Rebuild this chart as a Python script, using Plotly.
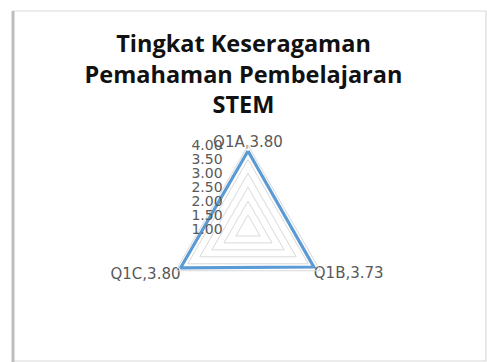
import plotly.graph_objects as go

categories = ["Q1A", "Q1B", "Q1C"]
values = [3.80, 3.73, 3.80]
tick_vals = [1.0, 1.5, 2.0, 2.5, 3.0, 3.5, 4.0]
title_lines = ["Tingkat Keseragaman", "Pemahaman Pembelajaran", "STEM"]

labels = [f"{c},{v:.2f}" for c, v in zip(categories, values)]

W, H = 487, 362
fig = go.Figure()
fig.add_trace(go.Scatterpolar(
    r=values + values[:1],
    theta=categories + categories[:1],
    mode="lines+text",
    text=labels + [""],
    textposition=["top center", "bottom right", "bottom left", "top center"],
    textfont=dict(family="DejaVu Sans, sans-serif", size=15, color="#595959"),
    line=dict(color="#5B9BD5", width=3.2),
    showlegend=False,
    cliponaxis=False,
    hoverinfo="skip",
))

cx, cy, R = 248, 229, 83.5
fig.update_layout(
    width=W, height=H,
    margin=dict(l=0, r=0, t=0, b=0),
    paper_bgcolor="white",
    plot_bgcolor="white",
    title=dict(
        text="<br>".join(title_lines),
        x=0.5, xanchor="center",
        y=1 - 52 / H, yanchor="top",
        font=dict(family="Open Sans, sans-serif", size=23.5, color="#111111", weight="bold"),
    ),
    polar=dict(
        domain=dict(x=[(cx - R) / W, (cx + R) / W], y=[1 - (cy + R) / H, 1 - (cy - R) / H]),
        gridshape="linear",
        bgcolor="rgba(0,0,0,0)",
        radialaxis=dict(
            range=[1, 4],
            tickvals=tick_vals,
            tickformat=".2f",
            angle=90,
            tickangle=90,
            side="counterclockwise",
            showline=False,
            ticks="outside",
            ticklen=20,
            tickcolor="rgba(0,0,0,0)",
            gridcolor="#d9d9d9",
            gridwidth=1,
            tickfont=dict(family="DejaVu Sans, sans-serif", size=14, color="#595959"),
        ),
        angularaxis=dict(
            rotation=90,
            direction="clockwise",
            showgrid=False,
            showticklabels=False,
            ticks="",
            showline=True,
            linecolor="#d9d9d9",
            linewidth=1,
        ),
    ),
    shapes=[
        dict(type="rect", xref="paper", yref="paper",
             x0=13 / W, x1=486 / W, y0=1 - 361 / H, y1=1 - 11 / H,
             line=dict(color="#d9d9d9", width=1.2), fillcolor="rgba(0,0,0,0)", layer="below"),
        dict(type="line", xref="paper", yref="paper",
             x0=13 / W, x1=13 / W, y0=1 - 362 / H, y1=1 - 11 / H,
             line=dict(color="#bdbdbd", width=3), layer="below"),
    ],
)

fig.write_html(
    "out.html",
    config={"displayModeBar": False},
    post_script="document.body.style.margin='0';document.body.style.overflow='hidden';",
)
